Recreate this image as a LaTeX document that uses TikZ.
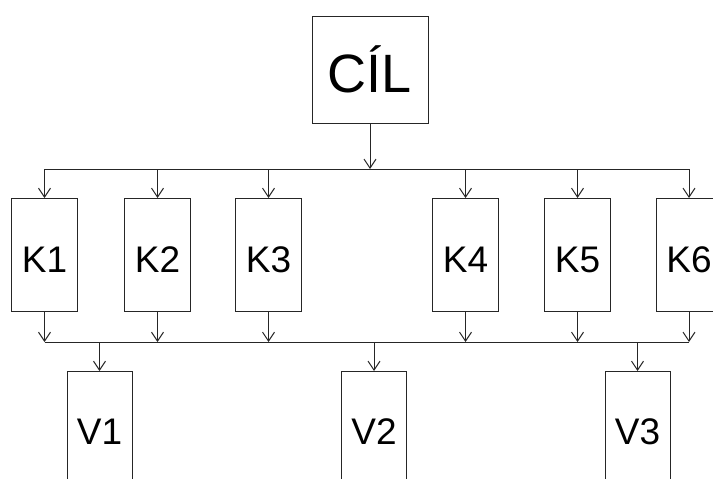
\documentclass[tikz,border=0pt]{standalone}
\usepackage{fontspec}
\setmainfont{Liberation Sans}
\usetikzlibrary{arrows.meta}
\begin{document}
\begin{tikzpicture}[x=1pt,y=-1pt,
  box/.style={draw=black!85,line width=1pt,inner sep=0pt,outer sep=0pt,text depth=0pt},
  kbox/.style={box,minimum width=66pt,minimum height=113pt,font=\fontsize{37}{37}\selectfont,text height=36pt},
  vbox/.style={box,minimum width=65pt,minimum height=121pt,font=\fontsize{37}{37}\selectfont,text height=26.5pt},
  arr/.style={draw=black!85,line width=1pt,-{Straight Barb[length=9pt,width=12pt,line width=1pt]}},
  bus/.style={draw=black!85,line width=1pt}]
\clip (0,0) rectangle (713,479);
\fill[white] (0,0) rectangle (713,479);
\node[box,minimum width=116pt,minimum height=107pt,font=\fontsize{54}{54}\selectfont,text height=46pt] (cil) at (370,69.5) {CÍL};
\coordinate (tb) at (0,169);
\coordinate (lb) at (0,342);
\foreach \n/\x in {1/44.5,2/157.5,3/268.5,4/465.5,5/577.5,6/689}{
  \node[kbox] (K\n) at (\x,254.5) {K\n};
}
\foreach \n/\x in {1/99.5,2/374,3/637.5}{
  \node[vbox] (V\n) at (\x,431.5) {V\n};
}
\coordinate (tbL) at (K1 |- tb);
\coordinate (tbR) at (K6 |- tb);
\coordinate (lbL) at (K1 |- lb);
\coordinate (lbR) at (K6 |- lb);
\draw[bus] (tbL) -- (tbR);
\draw[bus] (lbL) -- (lbR);
\draw[arr] (cil.south) -- (cil |- tb);
\foreach \n in {1,...,6}{
  \draw[arr] (K\n |- tb) -- (K\n.north);
  \draw[arr] (K\n.south) -- (K\n |- lb);
}
\foreach \n in {1,2,3}{
  \draw[arr] (V\n |- lb) -- (V\n.north);
}
\end{tikzpicture}
\end{document}
